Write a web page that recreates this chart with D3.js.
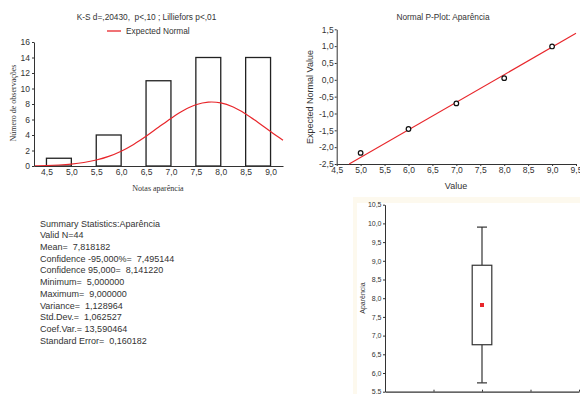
<!DOCTYPE html>
<html>
<head>
<meta charset="utf-8">
<script src="https://cdn.jsdelivr.net/npm/d3@7"></script>
<style>
  html, body { margin: 0; padding: 0; background: #fff; }
  svg { display: block; }
  text { font-family: "Liberation Sans", Arial, sans-serif; fill: #333; white-space: pre; }
  .serif { font-family: "Liberation Serif", "Times New Roman", serif; }
  .axis path, .axis line { stroke: #333; }
</style>
</head>
<body>
<svg id="chart" width="580" height="394"></svg>
<script>
// ---- Histogram of "Aparência" scores ----
const binStarts = [4.5, 5.5, 6.5, 7.5, 8.5];
const binEnds   = [5.0, 6.0, 7.0, 8.0, 9.0];
const binCounts = [1, 4, 11, 14, 14];
const histXTicks = [4.5, 5.0, 5.5, 6.0, 6.5, 7.0, 7.5, 8.0, 8.5, 9.0];
const histYTicks = [0, 2, 4, 6, 8, 10, 12, 14, 16];

// Expected normal curve, sampled along the value axis
const normalX = [4.25, 4.5, 4.75, 5.0, 5.25, 5.5, 5.75, 6.0, 6.25, 6.5, 6.75, 7.0,
                 7.25, 7.5, 7.75, 8.0, 8.25, 8.5, 8.75, 9.0, 9.25];
const normalY = [0.03, 0.06, 0.13, 0.25, 0.45, 0.77, 1.24, 1.91, 2.78, 3.83, 4.99, 6.14,
                 7.16, 7.90, 8.24, 8.14, 7.61, 6.72, 5.62, 4.45, 3.33];

// ---- Normal probability plot ----
const ppValues   = [5.0, 6.0, 7.0, 8.0, 9.0];
const ppExpected = [-2.17, -1.46, -0.70, 0.05, 0.99];
const ppLineX = [4.76, 9.5];
const ppLineY = [-2.5, 1.38];
const ppXTicks = [4.5, 5.0, 5.5, 6.0, 6.5, 7.0, 7.5, 8.0, 8.5, 9.0, 9.5];
const ppYTicks = [-2.5, -2.0, -1.5, -1.0, -0.5, 0.0, 0.5, 1.0, 1.5];

// ---- Summary statistics ----
const summaryLines = [
  "Summary Statistics:Aparência",
  "Valid N=44",
  "Mean=  7,818182",
  "Confidence -95,000%=  7,495144",
  "Confidence 95,000=  8,141220",
  "Minimum=  5,000000",
  "Maximum=  9,000000",
  "Variance=  1,128964",
  "Std.Dev.=  1,062527",
  "Coef.Var.= 13,590464",
  "Standard Error=  0,160182"
];

// ---- Box plot: mean, mean ± SD (box), mean ± 1.96·SD (whiskers) ----
const boxMean = 7.818182;
const boxLow = 6.756, boxHigh = 8.881;
const whiskerLow = 5.736, whiskerHigh = 9.901;
const boxYTicks = [5.5, 6.0, 6.5, 7.0, 7.5, 8.0, 8.5, 9.0, 9.5, 10.0, 10.5];

const comma1 = v => d3.format(".1f")(v).replace(".", ",").replace("−", "-");

const svg = d3.select("#chart");

// ================= Histogram =================
const xH = d3.scaleLinear().domain([4.25, 9.25]).range([34, 283]);
const yH = d3.scaleLinear().domain([0, 16]).range([166, 42]);
const gH = svg.append("g");

gH.append("text").attr("x", 146.5).attr("y", 20).attr("text-anchor", "middle")
  .attr("font-size", 8.3).text("K-S d=,20430,  p<,10 ; Lilliefors p<,01");
gH.append("line").attr("x1", 107).attr("x2", 121).attr("y1", 31).attr("y2", 31)
  .attr("stroke", "#e8262b").attr("stroke-width", 1.3);
gH.append("text").attr("x", 126).attr("y", 34).attr("font-size", 8.3).text("Expected Normal");

gH.selectAll("rect.bar").data(binCounts).join("rect").attr("class", "bar")
  .attr("x", (d, i) => xH(binStarts[i]))
  .attr("width", (d, i) => xH(binEnds[i]) - xH(binStarts[i]))
  .attr("y", d => yH(d))
  .attr("height", d => yH(0) - yH(d))
  .attr("fill", "#fff").attr("stroke", "#222").attr("stroke-width", 1.3);

const lineH = d3.line().x((d, i) => xH(normalX[i])).y(d => yH(d)).curve(d3.curveCatmullRom);
gH.append("path").datum(normalY).attr("d", lineH)
  .attr("fill", "none").attr("stroke", "#e8262b").attr("stroke-width", 1.2);

const axHx = gH.append("g").attr("class", "axis").attr("transform", `translate(0,${yH(0)})`)
  .call(d3.axisBottom(xH).tickValues(histXTicks).tickFormat(comma1).tickSize(0).tickSizeOuter(0).tickPadding(3));
axHx.select(".domain").attr("stroke-width", 1.2);
axHx.selectAll("text").attr("font-size", 8.5).attr("fill", "#333");

const axHy = gH.append("g").attr("class", "axis").attr("transform", `translate(${xH(4.25)},0)`)
  .call(d3.axisLeft(yH).tickValues(histYTicks).tickFormat(d3.format("d")).tickSize(2).tickSizeOuter(0).tickPadding(2));
axHy.selectAll("text").attr("font-size", 8.5).attr("fill", "#333");

gH.append("text").attr("class", "serif").attr("x", 158).attr("y", 191).attr("text-anchor", "middle")
  .attr("font-size", 8).text("Notas aparência");
gH.append("text").attr("class", "serif").attr("transform", "translate(16,103) rotate(-90)")
  .attr("text-anchor", "middle").attr("font-size", 8).text("Número de observações");

// ================= Normal P-Plot =================
const xP = d3.scaleLinear().domain([4.5, 9.5]).range([336.7, 576]);
const yP = d3.scaleLinear().domain([-2.5, 1.5]).range([164, 29.3]);
const gP = svg.append("g");

gP.append("text").attr("x", 443).attr("y", 20).attr("text-anchor", "middle")
  .attr("font-size", 8.3).text("Normal P-Plot: Aparência");

const axPx = gP.append("g").attr("class", "axis").attr("transform", `translate(0,${yP(-2.5)})`)
  .call(d3.axisBottom(xP).tickValues(ppXTicks).tickFormat(comma1).tickSize(2).tickSizeOuter(0).tickPadding(1));
axPx.select(".domain").attr("stroke-width", 1.2);
axPx.selectAll("text").attr("font-size", 8.5).attr("fill", "#333");

const axPy = gP.append("g").attr("class", "axis").attr("transform", `translate(${xP(4.5)},0)`)
  .call(d3.axisLeft(yP).tickValues(ppYTicks).tickFormat(comma1).tickSize(2).tickSizeOuter(0).tickPadding(1));
axPy.selectAll("text").attr("font-size", 8.5).attr("fill", "#333");

gP.append("line")
  .attr("x1", xP(ppLineX[0])).attr("y1", yP(ppLineY[0]))
  .attr("x2", xP(ppLineX[1])).attr("y2", yP(ppLineY[1]))
  .attr("stroke", "#e8262b").attr("stroke-width", 1.1);

gP.selectAll("circle.pt").data(ppValues).join("circle").attr("class", "pt")
  .attr("cx", d => xP(d)).attr("cy", (d, i) => yP(ppExpected[i])).attr("r", 2.3)
  .attr("fill", "#fff").attr("stroke", "#111").attr("stroke-width", 1.2);

gP.append("text").attr("x", 456).attr("y", 189).attr("text-anchor", "middle")
  .attr("font-size", 9).text("Value");
gP.append("text").attr("transform", "translate(313,97) rotate(-90)")
  .attr("text-anchor", "middle").attr("font-size", 9).text("Expected Normal Value");

// ================= Summary statistics =================
svg.append("g").selectAll("text").data(summaryLines).join("text")
  .attr("x", 40).attr("y", (d, i) => 226.5 + i * 11.74)
  .attr("font-size", 9).text(d => d);

// ================= Box plot =================
const gB = svg.append("g");
gB.append("rect").attr("x", 353).attr("y", 197).attr("width", 227).attr("height", 197).attr("fill", "#fdf9ee");
gB.append("rect").attr("x", 357).attr("y", 203).attr("width", 223).attr("height", 191).attr("fill", "#fff");

const yB = d3.scaleLinear().domain([5.5, 10.5]).range([391.7, 204.7]);
const xB = d3.scaleLinear().domain([0, 4]).range([385, 579]);
const boxPos = 2;

const axBy = gB.append("g").attr("class", "axis").attr("transform", `translate(${xB(0)},0)`)
  .call(d3.axisLeft(yB).tickValues(boxYTicks).tickFormat(comma1).tickSize(2).tickSizeOuter(0).tickPadding(1.5));
axBy.selectAll("text").attr("font-size", 7).attr("fill", "#555");

const axBx = gB.append("g").attr("class", "axis").attr("transform", `translate(0,${yB(5.5)})`)
  .call(d3.axisBottom(xB).tickValues([1, 2, 3, 4]).tickFormat("").tickSize(-2).tickSizeOuter(0));
axBx.select(".domain").attr("stroke-width", 1.3);

const bx = xB(boxPos);
gB.append("line").attr("x1", bx).attr("x2", bx).attr("y1", yB(whiskerHigh)).attr("y2", yB(boxHigh))
  .attr("stroke", "#333").attr("stroke-width", 1.2);
gB.append("line").attr("x1", bx).attr("x2", bx).attr("y1", yB(boxLow)).attr("y2", yB(whiskerLow))
  .attr("stroke", "#333").attr("stroke-width", 1.2);
[whiskerHigh, whiskerLow].forEach(v => {
  gB.append("line").attr("x1", bx - 5).attr("x2", bx + 5).attr("y1", yB(v)).attr("y2", yB(v))
    .attr("stroke", "#333").attr("stroke-width", 1.2);
});
gB.append("rect").attr("x", bx - 9.8).attr("width", 19.6)
  .attr("y", yB(boxHigh)).attr("height", yB(boxLow) - yB(boxHigh))
  .attr("fill", "#fff").attr("stroke", "#333").attr("stroke-width", 1.2);
gB.append("rect").attr("x", bx - 2).attr("y", yB(boxMean) - 2).attr("width", 4).attr("height", 4)
  .attr("fill", "#e8262b");

gB.append("text").attr("transform", "translate(365,298) rotate(-90)")
  .attr("text-anchor", "middle").attr("font-size", 7).attr("fill", "#555").text("Aparência");
</script>
</body>
</html>
